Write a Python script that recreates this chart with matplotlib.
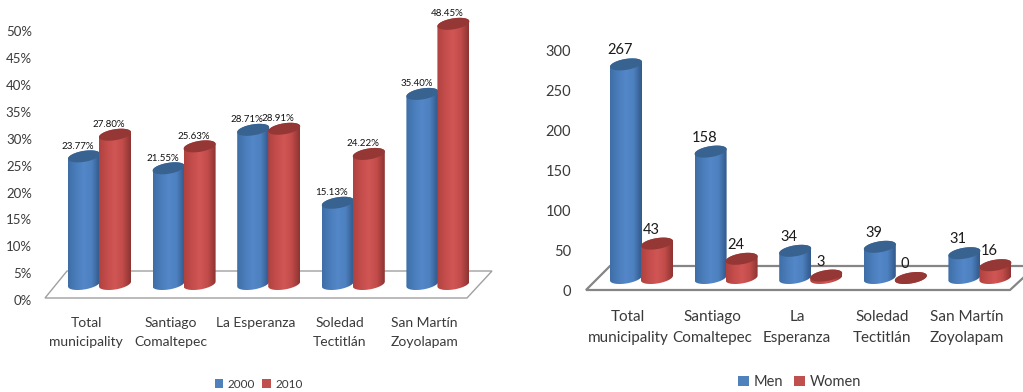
import numpy as np
import matplotlib
matplotlib.use("Agg")
import matplotlib.pyplot as plt
from matplotlib.colors import LinearSegmentedColormap
from matplotlib.patches import Patch, Polygon

plt.rcParams['font.family'] = ['Lato', 'DejaVu Sans']

W, H = 1023, 392

# rates by locality
pct_categories = ["Total\nmunicipality", "Santiago\nComaltepec", "La Esperanza",
                  "Soledad\nTectitlán", "San Martín\nZoyolapam"]
pct_2000 = [23.77, 21.55, 28.71, 15.13, 35.40]
pct_2010 = [27.80, 25.63, 28.91, 24.22, 48.45]
pct_ticks = [0, 5, 10, 15, 20, 25, 30, 35, 40, 45, 50]
pct_names = ["2000", "2010"]

# counts by locality
cnt_categories = ["Total\nmunicipality", "Santiago\nComaltepec", "La\nEsperanza",
                  "Soledad\nTectitlán", "San Martín\nZoyolapam"]
cnt_men = [267, 158, 34, 39, 31]
cnt_women = [43, 24, 3, 0, 16]
cnt_ticks = [0, 50, 100, 150, 200, 250, 300]
cnt_names = ["Men", "Women"]

BLUE = ["#3f6ea6", "#4a7dbb", "#5487c8", "#4d80bf", "#32598a"]
RED = ["#b04240", "#c44d4b", "#d05654", "#c24c4a", "#8c3432"]
BLUE_TOP = "#386290"
RED_TOP = "#953735"
RX, RY, SHEAR = 16.0, 5.5, 0.15
PX = 0.72  # points per pixel at dpi 100


def cylinder(ax, xc, val, stops, top, sx, sy):
    # sx, sy are pixels per data unit
    t = np.linspace(0, np.pi, 60)
    ex = RX * np.cos(t)
    ey = RY * np.sin(t) + SHEAR * ex
    upper = np.column_stack([xc + ex / sx, val + ey / sy])
    ex2 = RX * np.cos(t + np.pi)
    ey2 = RY * np.sin(t + np.pi) + SHEAR * ex2
    lower = np.column_stack([xc + ex2 / sx, ey2 / sy])
    lid = np.column_stack([xc + np.r_[ex, ex2] / sx, val + np.r_[ey, ey2] / sy])

    body = Polygon(np.vstack([lower, upper]), closed=True, transform=ax.transData,
                   fc="none", ec="none")
    ax.add_patch(body)
    cmap = LinearSegmentedColormap.from_list("cyl", stops)
    grad = np.linspace(0, 1, 64).reshape(1, -1)
    y0 = -(RY + 4) / sy
    y1 = val + (RY + 4) / sy
    im = ax.imshow(grad, cmap=cmap, extent=[xc - RX / sx, xc + RX / sx, y0, y1],
                   aspect="auto", zorder=3, interpolation="bilinear")
    im.set_clip_path(body)
    ax.add_patch(Polygon(lid, closed=True, fc=top, ec="none", zorder=3))


def panel(left, width, base_y, sy, centre0, categories, first, second, ticks, tick_fmt,
          names, floor, floor_style, tick_right, tick_drop, tick_size, cat_y, cat_size,
          cat_spacing, lbl_fmt, lbl_size, lbl_rise, lbl_color, legend_xy, legend_size,
          legend_gap):
    sx = 84.6
    ax = fig.add_axes([left / W, 0, width / W, 1])
    x0 = (left - centre0) / sx
    ax.set_xlim(x0, x0 + width / sx)
    ax.set_ylim(-(H - base_y) / sy, base_y / sy)
    ax.axis("off")

    def fx(px):
        return x0 + (px - left) / sx

    def fy(py):
        return (base_y - py) / sy

    # floor of the 3d box
    fl, bl, br, fr = floor
    ax.add_patch(Polygon([(fx(fl), fy(bl[1])), (fx(bl[0]), fy(bl[2])), (fx(br), fy(bl[2])),
                          (fx(fr), fy(bl[1]))], closed=True, fc="white",
                         ec=floor_style[0], lw=floor_style[1], zorder=1))

    offs = (RX - 0.5) / sx
    for i in range(len(categories)):
        cylinder(ax, i - offs, first[i], BLUE, BLUE_TOP, sx, sy)
        cylinder(ax, i + offs, second[i], RED, RED_TOP, sx, sy)
        ax.annotate(lbl_fmt(first[i]), (i - offs, first[i]), xytext=(-6 * PX, lbl_rise * PX),
                    textcoords="offset points", ha="center", va="center",
                    fontsize=lbl_size, color=lbl_color, zorder=5)
        ax.annotate(lbl_fmt(second[i]), (i + offs, second[i]), xytext=(-6 * PX, lbl_rise * PX),
                    textcoords="offset points", ha="center", va="center",
                    fontsize=lbl_size, color=lbl_color, zorder=5)
        ax.text(i - 13.5 / sx, fy(cat_y), categories[i], ha="center", va="top",
                fontsize=cat_size, color="#3a3a3a", linespacing=cat_spacing)

    for v in ticks:
        ax.annotate(tick_fmt(v), (fx(tick_right), v), xytext=(0, -tick_drop * PX),
                    textcoords="offset points", ha="right", va="center",
                    fontsize=tick_size, color="#3a3a3a")

    handles = [Patch(fc="#4f81bd"), Patch(fc="#c0504d")]
    ax.legend(handles, names, ncol=2, loc="center", frameon=False,
              bbox_to_anchor=(fx(legend_xy[0]), fy(legend_xy[1])),
              bbox_transform=ax.transData, fontsize=legend_size, labelcolor="#3a3a3a",
              handlelength=0.75, handleheight=0.75, handletextpad=0.35,
              columnspacing=legend_gap, borderpad=0, borderaxespad=0)
    ax.set_xlim(x0, x0 + width / sx)
    ax.set_ylim(-(H - base_y) / sy, base_y / sy)


fig = plt.figure(figsize=(W / 100, H / 100), dpi=100, facecolor="white")

panel(0, 510, 284, 5.37, 99.5, pct_categories, pct_2000, pct_2010, pct_ticks,
      lambda v: f"{v}%", pct_names, (45, (67, 298, 271), 492, 467), ("#a0a0a0", 1.0),
      32, 17, 9.5, 317, 10, 1.7,
      lambda v: f"{v:.2f}%", 7, 10, "#111111", (258.5, 384), 8.5, 0.6)
panel(510, 513, 278, 0.80, 641.5, cnt_categories, cnt_men, cnt_women, cnt_ticks,
      lambda v: f"{v}", cnt_names, (586, (610, 290, 266), 1036, 1010), ("#858585", 1.6),
      571, 14.5, 10.5, 310, 11, 1.6,
      lambda v: f"{v}", 10.5, 14, "#1a1a1a", (799.5, 382), 10.5, 0.7)

fig.savefig("out.png", dpi=100)
